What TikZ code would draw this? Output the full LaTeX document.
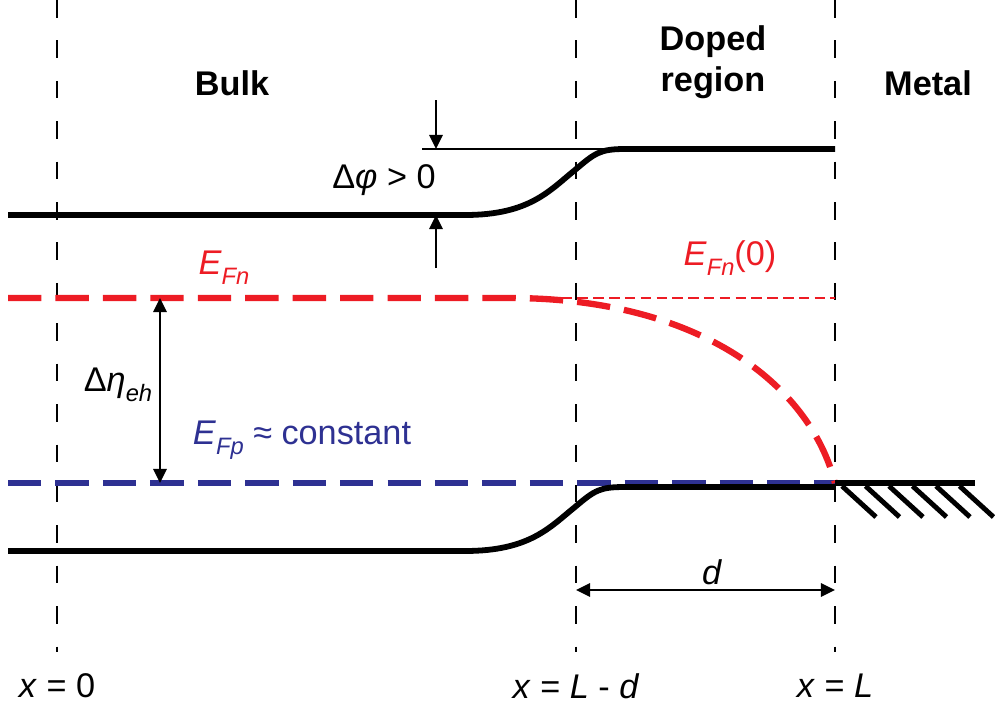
\documentclass[tikz,border=0pt]{standalone}
\usepackage{fontspec}
\setmainfont{Liberation Sans}
\usetikzlibrary{arrows.meta}
\definecolor{fred}{RGB}{237,28,36}
\definecolor{fblue}{RGB}{46,49,146}
\newcommand\lsub[1]{\raisebox{-0.55ex}{\fontsize{13.5}{13.5}\selectfont\itshape #1}}
\begin{document}
\begin{tikzpicture}[x=0.02cm,y=-0.02cm,
  vdash/.style={line width=1.3pt,dash pattern=on 10pt off 13pt},
  band/.style={line width=3.3pt},
  thin/.style={line width=1.3pt},
  tip/.style={-{Triangle[length=8pt,width=7.5pt]}},
  dtip/.style={{Triangle[length=8pt,width=7.5pt]}-{Triangle[length=8pt,width=7.5pt]}},
  qdash/.style={line width=3.6pt,dash pattern=on 19pt off 8pt},
  head/.style={font=\fontsize{19.5}{22}\selectfont\bfseries},
  lab/.style={font=\fontsize{19.5}{22}\selectfont},
  hatch/.style={line width=2.8pt}]
\useasboundingbox (0,0) rectangle (995,704);
% vertical dashed guides
\coordinate (v0t) at (57,0);   \coordinate (v0b) at (57,652);
\coordinate (v1t) at (576,0);  \coordinate (v1b) at (576,652);
\coordinate (v2t) at (835,0);  \coordinate (v2b) at (835,652);
\draw[vdash] (v0t) -- (v0b);
\draw[vdash] (v1t) -- (v1b);
\draw[vdash] (v2t) -- (v2b);
% headers
\node[head] (bulk) at (232,83) {Bulk};
\node[head] (doped) at (713,42) {Doped};
\node[head] (region) at (713,83) {region};
\node[head] (metal) at (928,83) {Metal};
% conduction band
\coordinate (cbl) at (8,215);
\coordinate (cbr) at (835,149);
\draw[band] (cbl) -- (465,215) .. controls (530,215) and (550,190) .. (575,170)
  .. controls (595,153) and (600,149) .. (625,149) -- (cbr);
% thin reference line
\coordinate (rl) at (422,149);
\draw[thin] (rl) -- (cbr);
% delta phi arrows
\coordinate (a1s) at (436,100); \coordinate (a1e) at (436,149);
\coordinate (a2s) at (436,268); \coordinate (a2e) at (436,215);
\draw[thin,tip] (a1s) -- (a1e);
\draw[thin,tip] (a2s) -- (a2e);
\node[lab] (dphi) at (384,180) {Δ\textit{φ} > 0};
% quasi fermi levels
\coordinate (fnl) at (8,298);
\coordinate (fnr) at (835,298);
\coordinate (fpl) at (8,483);
\coordinate (fpr) at (835,483);
\draw[fred,line width=1pt,dash pattern=on 6pt off 3pt] (530,298) -- (fnr);
\draw[fblue,qdash] (fpl) -- (fpr);
\draw[fred,qdash] (fnl) -- (510,298) .. controls (700,298) and (810,385) .. (fpr);
\node[lab,text=fred] (efn) at (224,268) {\textit{E}\lsub{Fn}};
\node[lab,text=fred] (efn0) at (730,258) {\textit{E}\lsub{Fn}(0)};
\node[lab,text=fblue] (efp) at (302,440) {\textit{E}\lsub{Fp} ≈ constant};
% delta eta arrow
\coordinate (ets) at (160,298); \coordinate (ete) at (160,483);
\draw[thin,dtip] (ets) -- (ete);
\node[lab] (deta) at (118,385) {Δ\textit{η}\lsub{eh}};
% valence band
\coordinate (vbl) at (8,551);
\coordinate (vbr) at (835,487);
\draw[band] (vbl) -- (465,551) .. controls (530,551) and (550,527) .. (575,507)
  .. controls (595,490) and (600,487) .. (625,487) -- (vbr);
% metal
\coordinate (ml) at (835,483);
\coordinate (mr) at (975,483);
\draw[band] (ml) -- (mr);
\foreach \i in {0,...,5} {
  \draw[hatch] ({842+23.5*\i},486) -- ({876+23.5*\i},517);
}
% d arrow
\coordinate (ds) at (576,590); \coordinate (de) at (835,590);
\draw[thin,dtip] (ds) -- (de);
\node[lab] (dlab) at (712,572) {\textit{d}};
% bottom labels
\node[lab] (x0) at (57,686) {\textit{x} = 0};
\node[lab] (xld) at (576,686) {\textit{x} = \textit{L} - \textit{d}};
\node[lab] (xl) at (835,686) {\textit{x} = \textit{L}};
\end{tikzpicture}
\end{document}
